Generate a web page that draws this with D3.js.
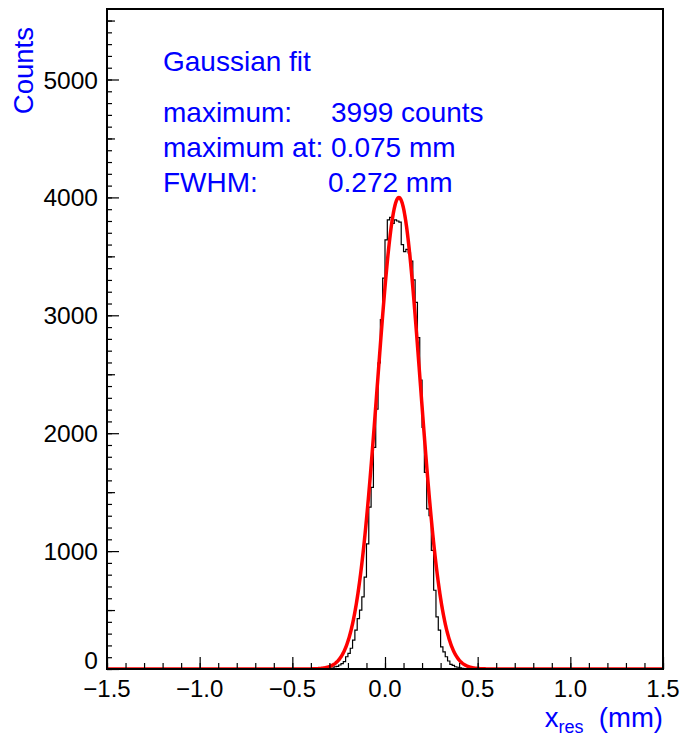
<!DOCTYPE html>
<html>
<head>
<meta charset="utf-8">
<script src="https://cdn.jsdelivr.net/npm/d3@7"></script>
<style>
  html, body { margin: 0; padding: 0; background: #fff; }
  svg { display: block; font-family: "Liberation Sans", Arial, Helvetica, sans-serif; }
</style>
</head>
<body>
<svg id="chart" width="686" height="736"></svg>
<script>
// Residual histogram (x_res, mm) with Gaussian fit
const binStart = -0.3125;
const binWidth = 0.0125;
const counts = [
  2, 4, 8, 19, 22, 34, 45, 62, 104, 133,
  176, 245, 330, 428, 499, 612, 780, 1062, 1373, 1540,
  1879, 2205, 2597, 2963, 3315, 3640, 3810, 3830, 3780, 3810,
  3800, 3790, 3600, 3540, 3560, 3530, 3460, 3300, 3110, 2810,
  2450, 2050, 1667, 1358, 1300, 1006, 668, 442, 330, 188,
  146, 104, 68, 40, 30, 19, 15, 10, 6, 4, 2
];

// Fit parameters
const fitMaximum = 3999;
const fitMean = 0.075;
const fitFWHM = 0.272;

const xDomain = [-1.5, 1.5];
const yDomain = [0, 5598];
const xTickValues = [-1.5, -1.0, -0.5, 0.0, 0.5, 1.0, 1.5];
const yTickValues = [0, 1000, 2000, 3000, 4000, 5000];

const fitLines = [
  { text: "Gaussian fit", x: 163, y: 71 },
  { text: "maximum:", x: 163, y: 122 },
  { text: "3999 counts", x: 331, y: 122 },
  { text: "maximum at: 0.075 mm", x: 163, y: 157 },
  { text: "FWHM:", x: 163, y: 192 },
  { text: "0.272 mm", x: 328, y: 192 }
];

const L = 107, R = 663, T = 9, B = 669;
const svg = d3.select("#chart");
const x = d3.scaleLinear().domain(xDomain).range([L, R]);
const y = d3.scaleLinear().domain(yDomain).range([B, T]);
const blue = "#0000ff";

// clip region for data marks
svg.append("defs").append("clipPath").attr("id", "plotclip")
  .append("rect").attr("x", L).attr("y", T - 2).attr("width", R - L).attr("height", B - T + 2);

// histogram as a step outline
const stepPts = [[xDomain[0], 0], [binStart, 0]];
counts.forEach((c, i) => {
  const lo = binStart + i * binWidth;
  stepPts.push([lo, c], [lo + binWidth, c]);
});
stepPts.push([binStart + counts.length * binWidth, 0], [xDomain[1], 0]);
const stepLine = d3.line().x(d => x(d[0])).y(d => y(d[1]));
svg.append("path")
  .attr("clip-path", "url(#plotclip)")
  .attr("d", stepLine(stepPts))
  .attr("fill", "none")
  .attr("stroke", "#000")
  .attr("stroke-width", 1.2);

// Gaussian fit curve
const sigma = fitFWHM / (2 * Math.sqrt(2 * Math.log(2)));
const fitPts = d3.range(xDomain[0], xDomain[1] + 1e-9, 0.002)
  .map(v => [v, fitMaximum * Math.exp(-0.5 * Math.pow((v - fitMean) / sigma, 2))]);
svg.append("path")
  .attr("clip-path", "url(#plotclip)")
  .attr("d", d3.line().x(d => x(d[0])).y(d => y(d[1]))(fitPts))
  .attr("fill", "none")
  .attr("stroke", "#ff0000")
  .attr("stroke-width", 3.5)
  .attr("stroke-linejoin", "round");

// x axis: ticks pointing into the frame
const xMinor = d3.range(-15, 16).map(k => k / 10);
const xAxisG = svg.append("g").attr("transform", `translate(0,${B})`);
xAxisG.call(d3.axisTop(x).tickValues(xMinor).tickSize(6).tickFormat(""))
  .call(g => g.select(".domain").remove());
xAxisG.append("g").call(d3.axisTop(x).tickValues(xTickValues).tickSize(12).tickFormat(""))
  .call(g => g.select(".domain").remove());
xAxisG.selectAll("line").attr("stroke", "#000").attr("stroke-width", 1.2);
svg.append("g").selectAll("text").data(xTickValues).join("text")
  .attr("x", d => x(d))
  .attr("y", 697)
  .attr("text-anchor", "middle")
  .attr("font-size", 24)
  .attr("fill", "#000")
  .text(d => (d < 0 ? "\u2212" : "") + Math.abs(d).toFixed(1));

// y axis: ticks pointing into the frame
const yMinor = d3.range(0, 5600, 100);
const yMid = d3.range(500, 5600, 1000);
const yAxisG = svg.append("g").attr("transform", `translate(${L},0)`);
yAxisG.call(d3.axisRight(y).tickValues(yMinor).tickSize(5).tickFormat(""))
  .call(g => g.select(".domain").remove());
yAxisG.append("g").call(d3.axisRight(y).tickValues(yMid).tickSize(8).tickFormat(""))
  .call(g => g.select(".domain").remove());
yAxisG.append("g").call(d3.axisRight(y).tickValues(yTickValues).tickSize(12).tickFormat(""))
  .call(g => g.select(".domain").remove());
yAxisG.selectAll("line").attr("stroke", "#000").attr("stroke-width", 1.2);
svg.append("g").selectAll("text").data(yTickValues).join("text")
  .attr("x", 98)
  .attr("y", d => d === 0 ? y(d) : y(d) + 9)
  .attr("text-anchor", "end")
  .attr("font-size", 24.5)
  .attr("fill", "#000")
  .text(d => d);

// frame
svg.append("rect")
  .attr("x", L).attr("y", T).attr("width", R - L).attr("height", B - T)
  .attr("fill", "none").attr("stroke", "#000").attr("stroke-width", 2);

// axis titles
svg.append("text")
  .attr("transform", `translate(33,${T + 18}) rotate(-90)`)
  .attr("text-anchor", "end")
  .attr("font-size", 27.5)
  .attr("fill", blue)
  .text("Counts");

const xt = svg.append("text")
  .attr("x", R).attr("y", 727)
  .attr("text-anchor", "end")
  .attr("font-size", 27.5)
  .attr("fill", blue)
  .style("white-space", "pre");
xt.append("tspan").text("x");
xt.append("tspan").attr("dy", 6).attr("font-size", 18).text("res");
xt.append("tspan").attr("dy", -6).text("  (mm)");

// fit summary text
svg.append("g").selectAll("text").data(fitLines).join("text")
  .attr("x", d => d.x).attr("y", d => d.y)
  .attr("font-size", 28)
  .attr("fill", blue)
  .text(d => d.text);
</script>
</body>
</html>
